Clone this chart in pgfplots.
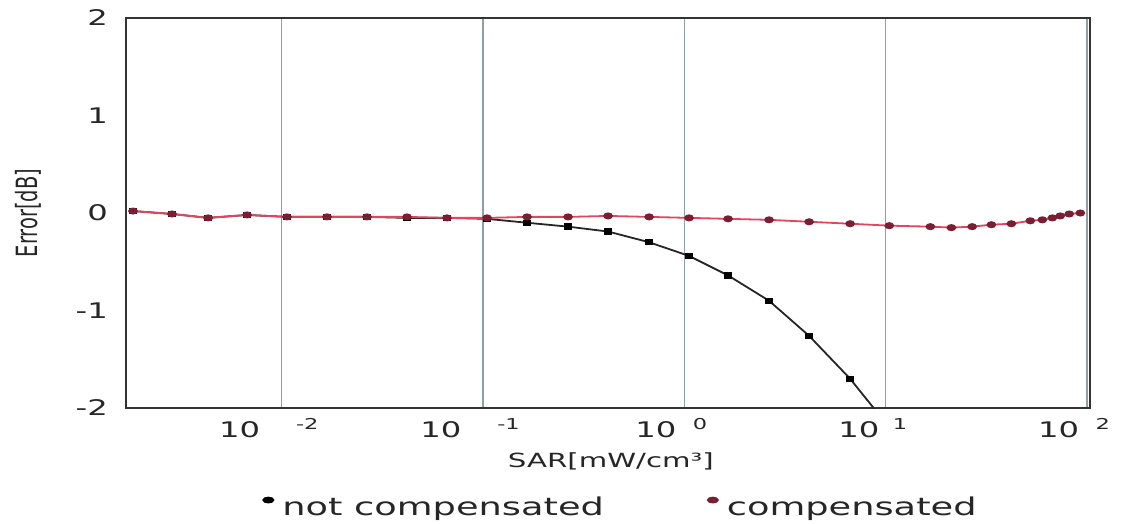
\documentclass[border=0pt]{standalone}
\usepackage{fontspec}
\setmainfont{DejaVu Sans}
\usepackage{graphicx}
\usepackage{pgfplots}
\pgfplotsset{compat=1.18}

\definecolor{compline}{HTML}{E24560}
\definecolor{compmark}{HTML}{7A1E34}
\definecolor{gridc}{HTML}{8FA0A0}

% the reference text is stretched sideways
\newcommand{\wide}[1]{\scalebox{1.5}[1]{#1}}
\newcommand{\dec}[2]{\wide{10\hspace{#1}\raisebox{8.5pt}{\fontsize{15}{15}\selectfont #2}}}

% SAR [mW/cm3], error [dB]
\pgfplotstableread{
x        y
0.001825  0.02
0.00285  -0.01
0.00431  -0.05
0.00673  -0.02
0.01062  -0.04
0.01679  -0.04
0.02653  -0.04
0.0419   -0.05
0.0662   -0.05
0.1047   -0.06
0.1655   -0.10
0.2644   -0.14
0.4178   -0.19
0.668    -0.30
1.055    -0.44
1.648    -0.64
2.634    -0.90
4.165    -1.26
6.66     -1.70
10.42    -2.20
}\notcomp

\pgfplotstableread{
x        y
0.001825  0.02
0.00285  -0.01
0.00431  -0.05
0.00673  -0.02
0.01062  -0.04
0.01679  -0.04
0.02653  -0.04
0.0419   -0.04
0.0662   -0.05
0.1047   -0.05
0.1655   -0.04
0.2644   -0.04
0.4178   -0.03
0.668    -0.04
1.055    -0.05
1.648    -0.06
2.634    -0.07
4.165    -0.09
6.66     -0.11
10.42    -0.13
16.67    -0.14
21.2     -0.15
26.9     -0.14
33.5     -0.12
42.1     -0.11
52.3     -0.08
60.0     -0.07
67.3     -0.05
73.6     -0.03
81.6     -0.01
92.7      0.00
}\comp

\begin{document}
\begin{tikzpicture}
\useasboundingbox (-126pt,-116pt) rectangle (1000pt,408pt);
\begin{axis}[
    at={(0pt,0pt)}, anchor=south west,
    scale only axis, width=964pt, height=390pt,
    xmode=log, xmin=0.001684, xmax=103.5,
    ymin=-2, ymax=2,
    xtick={0.01,0.1,1,10,100},
    xticklabels={\dec{24pt}{-2},\dec{24pt}{-1},\dec{11pt}{0},\dec{9pt}{1},\dec{11pt}{2}},
    ytick={-2,-1,0,1,2},
    yticklabels={\wide{-2},\wide{-1},\wide{0},\wide{1},\wide{2}},
    major tick length=0pt, minor tick length=0pt,
    xmajorgrids, grid style={gridc, line width=1.3pt},
    axis line style={draw=black!80, line width=1.6pt},
    tick label style={font=\fontsize{21.5}{22}\selectfont, text=black!85, inner sep=0pt},
    xticklabel style={anchor=north, yshift=-10pt, xshift=-13pt},
    yticklabel style={anchor=east, xshift=-18pt},
    xlabel={\wide{SAR[mW/cm³]}},
    xlabel style={at={(rel axis cs:0.503,0)}, anchor=center, yshift=-53pt,
        font=\fontsize{19.5}{20}\selectfont, text=black!85, inner sep=0pt},
    ylabel={\scalebox{1}[1.5]{Error[dB]}},
    ylabel style={at={(axis description cs:-0.1017,0.5)}, anchor=center,
        font=\fontsize{19.5}{20}\selectfont, text=black!85, inner sep=0pt},
    clip marker paths=true,
    legend columns=2,
    legend style={at={(rel axis cs:0.513,-0.254)}, anchor=center, draw=none, fill=none,
        font=\fontsize{24.5}{26}\selectfont, text=black!85,
        /tikz/every even column/.append style={column sep=101pt}},
]
\addplot[color=black!85, line width=1.8pt, mark=square*,
    mark options={fill=black, draw=black, xscale=1.3, yscale=0.9}, mark size=2.6pt,
    legend image code/.code={\fill[black] (0pt,7pt) ellipse (5pt and 2.5pt);
        \path[draw=none, fill=none] (0pt,7pt) -- (12pt,7pt);}]
    table[x=x, y=y] {\notcomp};
\addlegendentry{\wide{not compensated}}
\addplot[color=compline, line width=1.8pt, mark=*,
    mark options={fill=compmark, draw=compmark, xscale=1.5}, mark size=2.6pt,
    legend image code/.code={\fill[compmark] (0pt,7pt) ellipse (5pt and 2.5pt);
        \path[draw=none, fill=none] (0pt,7pt) -- (12pt,7pt);}]
    table[x=x, y=y] {\comp};
\addlegendentry{\wide{compensated}}
\end{axis}
\end{tikzpicture}
\end{document}
